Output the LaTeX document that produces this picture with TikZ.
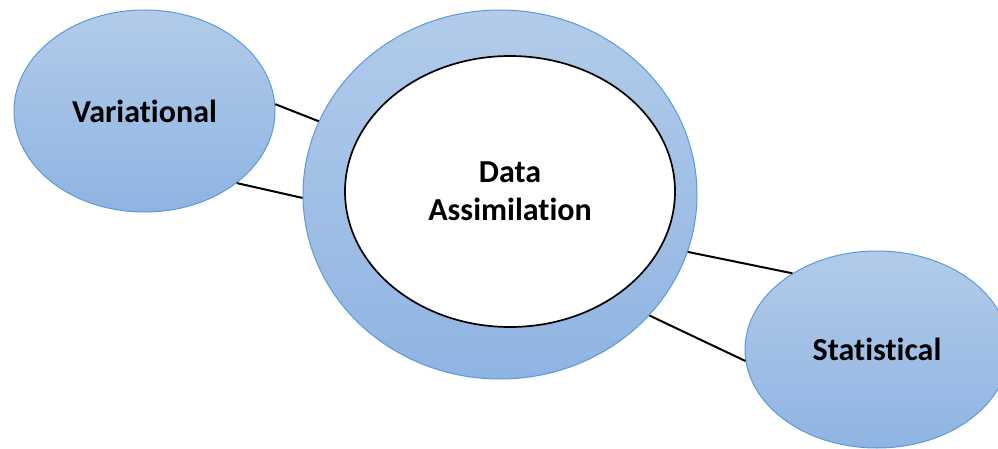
\documentclass[tikz,border=0pt]{standalone}
\usepackage{fontspec}
\setmainfont[Ligatures={NoCommon,NoRare}]{Carlito}
\usetikzlibrary{shapes.geometric}
\definecolor{gtop}{RGB}{178,203,234}
\definecolor{gbot}{RGB}{143,180,226}
\definecolor{gline}{RGB}{91,155,213}
\tikzset{
  blob/.style={ellipse, inner sep=0pt, draw=gline, line width=1pt,
    top color=gtop, bottom color=gbot,
    font=\fontsize{32}{38}\selectfont\bfseries, align=center},
  core/.style={ellipse, inner sep=0pt, draw=black, line width=1.7pt, fill=white,
    font=\fontsize{32}{38}\selectfont\bfseries, align=center},
  link/.style={draw=black, line width=2pt}
}
\begin{document}
\begin{tikzpicture}[x=1pt,y=-1pt]
\useasboundingbox (0,0) rectangle (998,449);
\clip (0,0) rectangle (998,449);
\node[blob, minimum width=261pt, minimum height=202pt] (var) at (144.5,111) {Variational};
\node[blob, minimum width=394pt, minimum height=369pt] (big) at (500,194.5) {};
\node[core, minimum width=330pt, minimum height=271pt] (da) at (510,191.5) {Data\\Assimilation};
\node[blob, minimum width=264pt, minimum height=197pt] (stat) at (877,349.5) {Statistical};
\draw[link] (var.3.5) -- (big.158.3);
\draw[link] (var.-38.5) -- (big.181);
\draw[link] (big.-17) -- (stat.138.8);
\draw[link] (big.-39.2) -- (stat.185);
\end{tikzpicture}
\end{document}
